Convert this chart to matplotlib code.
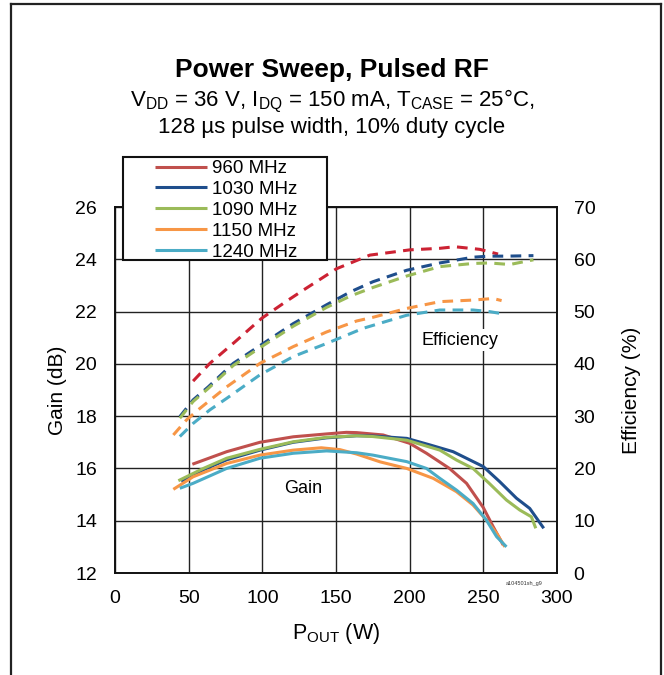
import matplotlib
matplotlib.use("Agg")
import matplotlib.pyplot as plt
from matplotlib.patches import Rectangle
from matplotlib.lines import Line2D

plt.rcParams['font.family'] = ['Liberation Sans', 'DejaVu Sans']
plt.rcParams['mathtext.fontset'] = 'custom'
plt.rcParams['mathtext.rm'] = 'Liberation Sans'
plt.rcParams['mathtext.it'] = 'Liberation Sans:italic'

# ---------------- data ----------------
labels = ["960 MHz", "1030 MHz", "1090 MHz", "1150 MHz", "1240 MHz"]
gain_colors = ["#C0504D", "#1F4E8C", "#9BBB59", "#F79646", "#4BACC6"]
eff_colors = ["#CC2233", "#1F4E8C", "#9BBB59", "#F79646", "#4BACC6"]

g960_w = [52.5, 75.8, 98.4, 121, 143.6, 157, 164, 182, 200, 211.4, 227, 238.6, 250, 256.7, 263.5]
g960 = [16.16, 16.64, 17.0, 17.21, 17.32, 17.38, 17.37, 17.28, 16.96, 16.58, 16.0, 15.43, 14.5, 13.77, 13.07]

g1030_w = [45, 60, 75.8, 98.4, 121, 143.6, 164, 175, 198, 213.7, 229.5, 250, 261, 272.5, 281.5, 291]
g1030 = [15.5, 15.95, 16.33, 16.7, 17.0, 17.17, 17.25, 17.24, 17.15, 16.9, 16.64, 16.07, 15.5, 14.86, 14.47, 13.71]

g1090_w = [43, 60, 75.8, 98.4, 121, 143.6, 164, 175, 198, 220.5, 231.8, 243, 254, 265.7, 274.7, 282.6, 285.6]
g1090 = [15.53, 16.0, 16.39, 16.73, 17.02, 17.19, 17.25, 17.22, 17.08, 16.7, 16.32, 16.0, 15.43, 14.79, 14.41, 14.15, 13.71]

g1150_w = [39.6, 53, 75.8, 98.4, 121, 140, 152.6, 164, 180, 198, 216, 231.8, 243, 252, 259, 264.6]
g1150 = [15.2, 15.68, 16.19, 16.51, 16.70, 16.79, 16.72, 16.55, 16.25, 16.0, 15.62, 15.11, 14.6, 14.03, 13.52, 13.0]

g1240_w = [44, 53, 75.8, 98.4, 121, 143.6, 164, 175, 198, 211.4, 220.5, 231.8, 243, 252, 259, 265.7]
g1240 = [15.24, 15.43, 16.0, 16.39, 16.58, 16.67, 16.6, 16.51, 16.26, 16.0, 15.62, 15.17, 14.66, 14.03, 13.39, 13.0]

e960_w = [53, 64.4, 81.4, 99.5, 116.5, 127.8, 150.4, 173, 200, 220.5, 230.7, 247.6, 260]
e960 = [36.7, 40.1, 44.2, 48.7, 52.0, 54.1, 58.2, 60.8, 61.8, 62.1, 62.4, 61.9, 61.0]

e1030_w = [44, 53, 63.3, 80.3, 100.6, 121, 143.6, 160, 175, 198, 220.5, 243, 254, 265.7, 284]
e1030 = [29.9, 33.1, 35.6, 40.1, 43.9, 47.7, 51.3, 53.8, 55.7, 57.9, 59.3, 60.4, 60.6, 60.6, 60.7]

e1090_w = [44, 53, 63.3, 80.3, 100.6, 121, 143.6, 160, 175, 198, 220.5, 243, 254, 268, 284]
e1090 = [29.6, 32.8, 35.3, 39.7, 43.5, 47.2, 50.8, 53.0, 54.6, 56.8, 58.6, 59.2, 59.3, 59.0, 59.9]

e1150_w = [39.6, 48.6, 57.7, 75.8, 98.4, 121, 143.6, 164, 175, 198, 220.5, 243, 256.7, 262.4]
e1150 = [26.4, 29.3, 31.5, 35.6, 40.1, 43.3, 46.1, 48.2, 48.9, 50.6, 51.9, 52.2, 52.5, 52.1]

e1240_w = [44, 53, 64.4, 75.8, 98.4, 121, 143.6, 168.5, 198, 220.5, 243, 254, 264.6]
e1240 = [26.1, 28.6, 31.2, 33.4, 37.9, 41.4, 43.9, 46.8, 49.3, 50.3, 50.3, 50.0, 49.5]

gain_series = [(g960_w, g960), (g1030_w, g1030), (g1090_w, g1090), (g1150_w, g1150), (g1240_w, g1240)]
eff_series = [(e960_w, e960), (e1030_w, e1030), (e1090_w, e1090), (e1150_w, e1150), (e1240_w, e1240)]

x_ticks = [0, 50, 100, 150, 200, 250, 300]
gain_ticks = [12, 14, 16, 18, 20, 22, 24, 26]
eff_ticks = [0, 10, 20, 30, 40, 50, 60, 70]

# ---------------- figure ----------------
fig = plt.figure(figsize=(6.64, 6.75), dpi=100)
L, R, B, T = 115 / 664, 557 / 664, 1 - 573 / 675, 1 - 207 / 675
ax = fig.add_axes([L, B, R - L, T - B])
ax2 = ax.twinx()

ax.set_xlim(0, 300)
ax.set_ylim(12, 26)
ax2.set_ylim(0, 70)
ax.set_xticks(x_ticks)
ax.set_yticks(gain_ticks)
ax2.set_yticks(eff_ticks)
ax.grid(True, color="#222222", linewidth=1.0)
ax.set_axisbelow(True)

ax.tick_params(axis="both", length=0, labelsize=14, pad=13)
ax.tick_params(axis="x", pad=12)
ax2.tick_params(axis="y", length=0, labelsize=14, pad=12)
for a in (ax, ax2):
    for s in a.spines.values():
        s.set_color("#111111")
        s.set_linewidth(1.2)

lines = []
for (w, g), c, lab in zip(gain_series, gain_colors, labels):
    ln, = ax.plot(w, g, color=c, lw=2.2, label=lab, solid_capstyle="butt")
    lines.append(ln)
for (w, e), c in zip(eff_series, eff_colors):
    ax2.plot(w, e, color=c, lw=2.2, linestyle=(0, (3.5, 2.4)))

ax.set_ylabel("Gain (dB)", fontsize=15, labelpad=6)
ax2.set_ylabel("Efficiency (%)", fontsize=15, labelpad=19)
ax.set_xlabel(r"P$_{\mathrm{OUT}}$ (W)", fontsize=15.5, labelpad=10)

ax.text(127.5, 15.25, "Gain", fontsize=13, ha="center", va="center")
ax.text(234, 20.91, "Efficiency", fontsize=13, ha="center", va="center",
        bbox=dict(facecolor="white", edgecolor="none", pad=2))
ax.text(278, 11.6, "a104501sh_g9", fontsize=4, ha="center", va="center", color="#333333")

# titles
fig.text(0.5, 1 - 70 / 675, "Power Sweep, Pulsed RF", fontsize=19, fontweight="bold",
         ha="center", va="center")
fig.text(0.5, 1 - 101 / 675,
         r"V$_{\mathrm{DD}}$ = 36 V, I$_{\mathrm{DQ}}$ = 150 mA, T$_{\mathrm{CASE}}$ = 25°C,",
         fontsize=16, ha="center", va="center")
fig.text(0.5, 1 - 127 / 675, "128 µs pulse width, 10% duty cycle",
         fontsize=16, ha="center", va="center")

# legend box
lx0, lx1, ly0, ly1 = 123 / 664, 327 / 664, 1 - 260 / 675, 1 - 157 / 675
rect = Rectangle((lx0, ly0), lx1 - lx0, ly1 - ly0, transform=fig.transFigure,
                 facecolor="white", edgecolor="#111111", lw=1.5, zorder=5)
fig.add_artist(rect)
leg = fig.legend(handles=lines, labels=labels, loc="upper left",
                 bbox_to_anchor=(155 / 664, 1 - 160 / 675), frameon=False,
                 fontsize=13.5, handlelength=2.75, handletextpad=0.27,
                 labelspacing=0.2, borderpad=0, borderaxespad=0)
leg.set_zorder(6)

# outer frame
for xs, ys in [((11 / 664, 11 / 664), (0, 1 - 4 / 675)),
               ((11 / 664, 661 / 664), (1 - 4 / 675, 1 - 4 / 675)),
               ((661 / 664, 661 / 664), (1 - 4 / 675, 0))]:
    fig.add_artist(Line2D(xs, ys, transform=fig.transFigure, color="#222222", lw=1.6))

fig.savefig("out.png", dpi=100)
